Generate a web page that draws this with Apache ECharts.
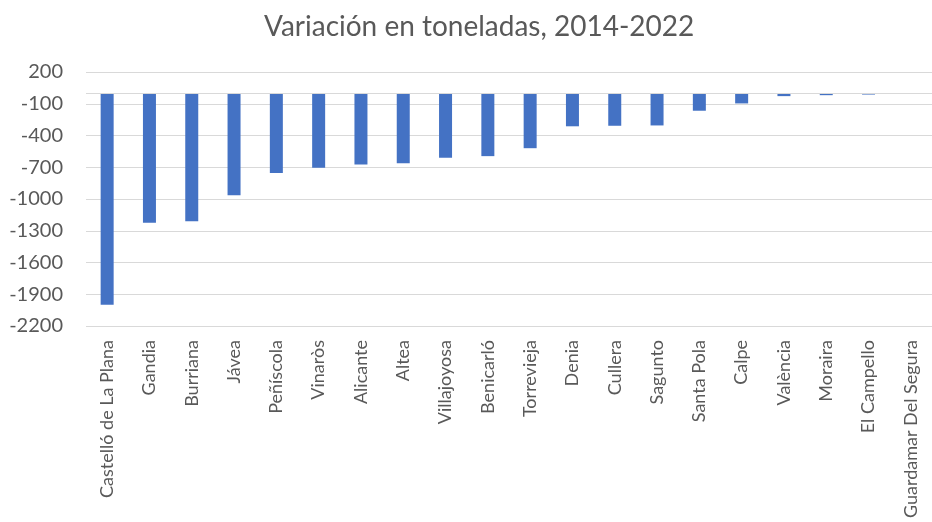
<!DOCTYPE html>
<html lang="es" style="height: 100%">
<head>
  <meta charset="utf-8">
</head>
<body style="height: 100%; margin: 0; background: #fff">
  <div id="container" style="width: 932px; height: 522px"></div>

<script type="text/javascript" src="https://cdn.jsdelivr.net/npm/echarts@6/dist/echarts.min.js"></script>

<script type="text/javascript">
// puertos y variación 2014-2022 (toneladas)
var puertos = [
  'Castelló de La Plana', 'Gandia', 'Burriana', 'Jávea', 'Peñíscola',
  'Vinaròs', 'Alicante', 'Altea', 'Villajoyosa', 'Benicarló',
  'Torrevieja', 'Denia', 'Cullera', 'Sagunto', 'Santa Pola',
  'Calpe', 'València', 'Moraira', 'El Campello', 'Guardamar Del Segura'
];
var variacion = [
  -2000, -1225, -1210, -965, -755,
  -705, -675, -662, -610, -595,
  -520, -313, -308, -305, -166,
  -97, -28, -19, -13, 0
];
var yMin = -2200;
var yMax = 200;
var yStep = 300;

var fuente = 'Lato, "Open Sans", sans-serif';
var gris = '#595959';

var myChart = echarts.init(document.getElementById('container'), null, { renderer: 'canvas' });

var option = {
  backgroundColor: '#fff',
  animation: false,
  title: {
    text: 'Variación en toneladas, 2014-2022',
    left: 259,
    top: 8,
    textStyle: { color: gris, fontFamily: fuente, fontWeight: 'normal', fontSize: 28 }
  },
  grid: { left: 86, top: 72, width: 852, bottom: 196 },
  xAxis: {
    type: 'category',
    data: puertos,
    axisLine: { show: false },
    axisTick: { show: false },
    axisLabel: {
      rotate: 90,
      interval: 0,
      margin: 14,
      color: gris,
      fontFamily: fuente,
      fontSize: 18
    }
  },
  yAxis: {
    type: 'value',
    min: yMin,
    max: yMax,
    interval: yStep,
    axisLine: { show: false },
    axisTick: { show: false },
    axisLabel: {
      color: gris,
      fontFamily: fuente,
      fontSize: 20,
      margin: 23,
      formatter: function (v) { return String(v); }
    },
    splitLine: { lineStyle: { color: '#d9d9d9', width: 1 } }
  },
  series: [
    {
      type: 'bar',
      data: variacion,
      barWidth: 13,
      itemStyle: { color: '#4472c4' },
      markLine: {
        silent: true,
        symbol: 'none',
        label: { show: false },
        lineStyle: { color: '#d9d9d9', type: 'solid', width: 1 },
        data: [{ yAxis: 0 }]
      }
    }
  ]
};

myChart.setOption(option);
window.addEventListener('resize', myChart.resize);
</script>
</body>
</html>
